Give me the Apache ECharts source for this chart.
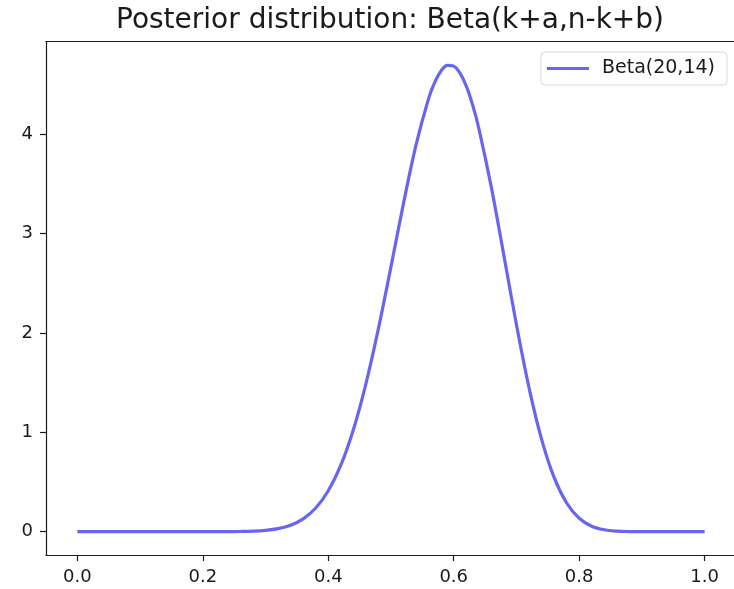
<!DOCTYPE html>
<html>
<head>
<meta charset="utf-8">
<script src="https://cdn.jsdelivr.net/npm/echarts@6/dist/echarts.min.js"></script>
<style>
  html, body { margin: 0; padding: 0; background: #ffffff; }
  #chart { width: 734px; height: 589px; }
</style>
</head>
<body>
<div id="chart"></div>
<script>
// Posterior density of theta, sampled along [0, 1]
const thetaValues = [
  0.00, 0.02, 0.04, 0.06, 0.08, 0.10, 0.12, 0.14, 0.16, 0.18,
  0.20, 0.22, 0.24, 0.26, 0.28, 0.30, 0.32, 0.34, 0.36, 0.38,
  0.40, 0.42, 0.44, 0.46, 0.48, 0.50, 0.52, 0.54, 0.56, 0.57,
  0.58, 0.59, 0.60, 0.61, 0.62, 0.63, 0.64, 0.66, 0.68, 0.70,
  0.72, 0.74, 0.76, 0.78, 0.80, 0.82, 0.84, 0.86, 0.88, 0.90,
  0.92, 0.94, 0.96, 0.98, 1.00
];
const densityValues = [
  0, 0, 0, 0, 0, 0, 0, 0, 0, 0,
  0.0000, 0.0001, 0.0005, 0.0018, 0.0050, 0.0129, 0.0302, 0.0648, 0.1286, 0.2378,
  0.4115, 0.6693, 1.0265, 1.4888, 2.0462, 2.6690, 3.3076, 3.8962, 4.3628, 4.5292,
  4.6417, 4.6956, 4.6877, 4.6176, 4.4868, 4.2994, 4.0613, 3.4663, 2.7793, 2.0833,
  1.4510, 0.9319, 0.5464, 0.2888, 0.1353, 0.0550, 0.0188, 0.0052, 0.0011, 0.0002,
  0.0000, 0, 0, 0, 0
];
const seriesName = 'Beta(20,14)';
const chartTitle = 'Posterior distribution: Beta(k+a,n-k+b)';
const xTickValues = [0.0, 0.2, 0.4, 0.6, 0.8, 1.0];
const yTickValues = [0, 1, 2, 3, 4];

const FONT = 'DejaVu Sans';
const INK = '#1a1a1a';
const LINE = '#6666ee';

const points = thetaValues.map((t, i) => [t, densityValues[i]]);

const chart = echarts.init(document.getElementById('chart'), null, { renderer: 'canvas' });

const spine = { show: true, onZero: false, lineStyle: { color: INK, width: 1.2 } };

chart.setOption({
  backgroundColor: '#ffffff',
  animation: false,
  title: {
    text: chartTitle,
    left: 385,
    top: 2,
    textAlign: 'center',
    textStyle: { fontFamily: FONT, fontSize: 28, fontWeight: 'normal', color: INK }
  },
  legend: {
    data: [{ name: seriesName, icon: 'rect' }],
    right: 7,
    top: 52,
    orient: 'vertical',
    itemWidth: 42,
    itemHeight: 3.2,
    padding: [7, 12, 7, 6],
    borderColor: '#d9d9d9',
    borderWidth: 1,
    borderRadius: 4,
    backgroundColor: '#ffffff',
    itemStyle: { color: LINE },
    textStyle: { fontFamily: FONT, fontSize: 19, color: INK, padding: [0, 0, 0, 8] }
  },
  grid: {
    left: 46, top: 41.5, width: 690, height: 513.5,
    containLabel: false,
    outerBoundsMode: 'none'
  },
  xAxis: [
    {
      type: 'value',
      min: -0.05,
      max: 1.05,
      position: 'bottom',
      axisLine: spine,
      axisTick: { show: true, length: 6, customValues: xTickValues, lineStyle: { color: INK, width: 1.2 } },
      axisLabel: {
        customValues: xTickValues,
        formatter: v => v.toFixed(1),
        fontFamily: FONT, fontSize: 18, color: INK, margin: 13
      },
      splitLine: { show: false }
    },
    {
      type: 'value',
      min: -0.05,
      max: 1.05,
      position: 'top',
      axisLine: spine,
      axisTick: { show: false },
      axisLabel: { show: false },
      splitLine: { show: false }
    }
  ],
  yAxis: [
    {
      type: 'value',
      min: -0.235,
      max: 4.9354,
      position: 'left',
      axisLine: spine,
      axisTick: { show: true, length: 6, customValues: yTickValues, lineStyle: { color: INK, width: 1.2 } },
      axisLabel: {
        customValues: yTickValues,
        formatter: v => String(v),
        fontFamily: FONT, fontSize: 18, color: INK, margin: 13
      },
      splitLine: { show: false }
    }
  ],
  series: [
    {
      name: seriesName,
      type: 'line',
      data: points,
      smooth: 0.35,
      symbol: 'none',
      lineStyle: { color: LINE, width: 3.2 },
      itemStyle: { color: LINE }
    }
  ]
});
</script>
</body>
</html>
